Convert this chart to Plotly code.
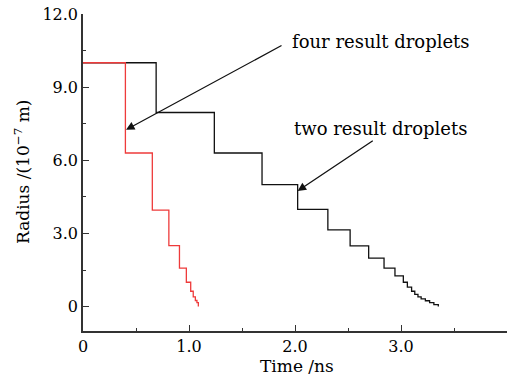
import plotly.graph_objects as go

# Red series: four result droplets (step curve, hv)
red_t = [0.0, 0.40, 0.654, 0.81, 0.91, 0.975, 1.016, 1.04, 1.06, 1.075, 1.088]
red_r = [10.0, 6.30, 3.96, 2.50, 1.58, 1.00, 0.63, 0.40, 0.25, 0.16, 0.0]

# Black series: two result droplets
blk_t = [0.0, 0.69, 1.239, 1.689, 2.025, 2.31, 2.52, 2.695, 2.84, 2.943, 3.022,
         3.06, 3.10, 3.13, 3.16, 3.19, 3.23, 3.27, 3.31, 3.352]
blk_r = [10.0, 7.96, 6.30, 5.00, 3.99, 3.15, 2.49, 1.99, 1.58, 1.26, 1.00,
         0.80, 0.63, 0.50, 0.40, 0.32, 0.24, 0.16, 0.08, 0.0]

x_ticks = [0, 1, 2, 3, 4]
x_labels = ["0", "1.0", "2.0", "3.0", ""]
y_ticks = [0, 3, 6, 9, 12]
y_labels = ["0", "3.0", "6.0", "9.0", "12.0"]

FONT = "DejaVu Serif"

fig = go.Figure()
fig.add_trace(go.Scatter(x=blk_t, y=blk_r, mode="lines", line=dict(color="#111111", width=1.3, shape="hv"),
                         showlegend=False))
fig.add_trace(go.Scatter(x=red_t, y=red_r, mode="lines", line=dict(color="#ee3b3b", width=1.3, shape="hv"),
                         showlegend=False))

axis_common = dict(showgrid=False, zeroline=False, showline=True, linecolor="#333333", linewidth=1.5,
                   ticks="inside", ticklen=6, tickwidth=1.2, tickcolor="#333333", automargin=False,
                   tickfont=dict(family=FONT, size=16, color="#000000"))

fig.update_xaxes(range=[0, 4.0], tickmode="array", tickvals=x_ticks, ticktext=x_labels,
                 minor=dict(ticks="inside", ticklen=3, dtick=0.5, tick0=0, tickcolor="#333333", tickwidth=1.2),
                 **axis_common)
fig.update_yaxes(range=[-1, 12], tickmode="array", tickvals=y_ticks, ticktext=y_labels,
                 minor=dict(ticks="inside", ticklen=3, dtick=1.5, tick0=0, tickcolor="#333333", tickwidth=1.2),
                 **axis_common)

annotations = [
    dict(x=0.406, y=7.25, ax=1.887, ay=10.74, xref="x", yref="y", axref="x", ayref="y",
         showarrow=True, arrowhead=2, arrowsize=1.3, arrowwidth=1.3, arrowcolor="#111111", text=""),
    dict(x=2.025, y=4.74, ax=2.748, ay=6.84, xref="x", yref="y", axref="x", ayref="y",
         showarrow=True, arrowhead=2, arrowsize=1.3, arrowwidth=1.3, arrowcolor="#111111", text=""),
    dict(x=1.953, y=10.86, xref="x", yref="y", text="four result droplets", showarrow=False,
         xanchor="left", yanchor="middle", font=dict(family=FONT, size=18, color="#000000")),
    dict(x=1.969, y=7.32, xref="x", yref="y", text="two result droplets", showarrow=False,
         xanchor="left", yanchor="middle", font=dict(family=FONT, size=18, color="#000000")),
    dict(x=0.505, y=-0.11, xref="paper", yref="paper", text="Time /ns", showarrow=False,
         xanchor="center", yanchor="middle", font=dict(family=FONT, size=17, color="#000000")),
    dict(x=-0.145, y=0.5, xref="paper", yref="paper", text="Radius /(10<sup>−7</sup> m)", showarrow=False,
         textangle=-90, xanchor="center", yanchor="middle", font=dict(family=FONT, size=17, color="#000000")),
]

fig.update_layout(width=521, height=375, margin=dict(l=83, r=14, t=14, b=44),
                  plot_bgcolor="white", paper_bgcolor="white", annotations=annotations,
                  font=dict(family=FONT))

fig.write_html("out.html")
